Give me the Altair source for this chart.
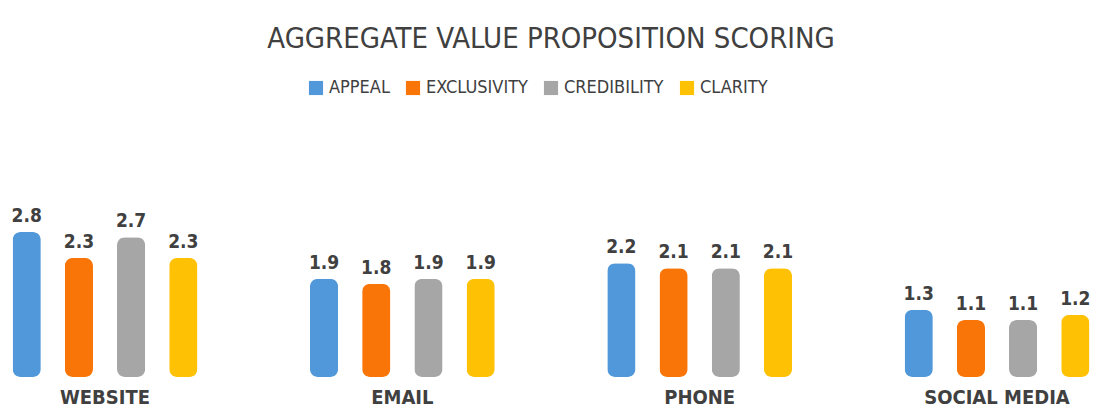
import altair as alt
import pandas as pd

categories = ["Website", "Email", "Phone", "Social Media"]
series = ["Appeal", "Exclusivity", "Credibility", "Clarity"]
appeal = [2.8, 1.9, 2.2, 1.3]
exclusivity = [2.3, 1.8, 2.1, 1.1]
credibility = [2.7, 1.9, 2.1, 1.1]
clarity = [2.3, 1.9, 2.1, 1.2]
colors = ["#5098D9", "#FA7507", "#A6A6A6", "#FEC104"]
title_text = "AGGREGATE VALUE PROPOSITION SCORING"

rows = []
for s, vals in zip(series, [appeal, exclusivity, credibility, clarity]):
    for c, v in zip(categories, vals):
        rows.append({"category": c, "series": s, "value": v})
df = pd.DataFrame(rows)

FONT = "DejaVu Sans Condensed, DejaVu Sans, sans-serif"
TXT = "#404040"

x = alt.X(
    "category:N", sort=categories,
    scale=alt.Scale(paddingInner=0.361, paddingOuter=0),
    axis=alt.Axis(title=None, domain=False, ticks=False, labelAngle=0,
                  labelFontSize=20, labelFont=FONT, labelFontWeight="bold",
                  labelColor=TXT, labelPadding=10,
                  labelExpr="upper(datum.label)"),
)
xo = alt.XOffset("series:N", sort=series,
                 scale=alt.Scale(paddingInner=0.46, paddingOuter=0.05))
y = alt.Y("value:Q", scale=alt.Scale(domain=[0, 4]), axis=None)
color = alt.Color(
    "series:N", sort=series,
    scale=alt.Scale(domain=series, range=colors),
    legend=alt.Legend(title=None, orient="none", direction="horizontal",
                      legendX=297, legendY=-91, symbolType="square",
                      symbolSize=200, symbolStrokeWidth=0,
                      labelFont=FONT, labelFontSize=18, labelColor=TXT,
                      labelExpr="upper(datum.label)", columnPadding=14),
)

bars = alt.Chart(df).mark_bar(cornerRadius=8).encode(x=x, xOffset=xo, y=y, color=color)
labels = alt.Chart(df).mark_text(
    baseline="bottom", dy=-6, font=FONT, fontSize=19, fontWeight="bold", color=TXT
).encode(x=x, xOffset=xo, y=y, text=alt.Text("value:Q", format=".1f"))

chart = (bars + labels).properties(
    width=1082, height=207,
    padding={"left": 2, "right": 0, "top": 17, "bottom": 0},
    title=alt.TitleParams(title_text, anchor="middle", fontSize=29, font=FONT,
                          fontWeight="normal", color=TXT, offset=25),
).configure_view(stroke=None)

chart.save("out.html", embed_options={"renderer": "svg", "actions": False})
